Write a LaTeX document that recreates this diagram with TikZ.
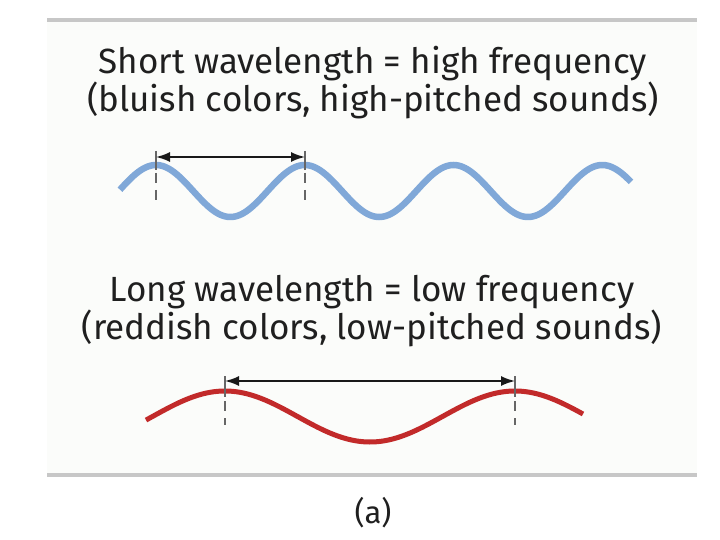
\documentclass[tikz,border=0pt]{standalone}
\usepackage{fontspec}
\setmainfont{Fira Sans}
\usetikzlibrary{arrows.meta}
\definecolor{shortblue}{HTML}{80A8D8}
\definecolor{longred}{HTML}{C22A2A}
\definecolor{panelbg}{HTML}{FBFCFA}
\tikzset{
  headline/.style={font=\fontsize{35}{34}\selectfont, text=black!88, align=center, inner sep=0pt},
  rulebar/.style={draw=black!22, line width=4pt},
  bluewave/.style={draw=shortblue, line width=6.5pt},
  redwave/.style={draw=longred, line width=5pt},
  spanarrow/.style={{Latex[length=14pt,width=10pt]}-{Latex[length=14pt,width=10pt]}, line width=1.8pt, black!90},
  crestmark/.style={draw=black!60, line width=1.2pt},
  crestdash/.style={crestmark, dash pattern=on 10pt off 7pt}
}
\begin{document}
\begin{tikzpicture}[x=1pt, y=-1pt]
  \useasboundingbox (0,0) rectangle (720,540);
  % panel
  \fill[panelbg] (47,20) rectangle (697,475);
  \draw[rulebar] (47,20) -- (697,20);
  \draw[rulebar] (47,475) -- (697,475);
  % short wave
  \node[headline] (shorttitle) at (373,83) {Short wavelength = high frequency\\(bluish colors, high-pitched sounds)};
  \draw[bluewave] plot[domain=120:631, samples=220] (\x, {191 - 26*cos((\x-156)*2.42)});
  \coordinate (shortA) at (156,157);
  \coordinate (shortB) at (305,157);
  \draw[crestmark] (156,151) -- (156,170);
  \draw[crestdash] (156,173) -- (156,201);
  \draw[crestmark] (305,151) -- (305,170);
  \draw[crestdash] (305,173) -- (305,201);
  \draw[spanarrow] (shortA) -- (shortB);
  % long wave
  \node[headline] (longtitle) at (372,311) {Long wavelength = low frequency\\(reddish colors, low-pitched sounds)};
  \draw[redwave] plot[domain=146:583, samples=220] (\x, {416.5 - 25.5*cos((\x-225)*1.2414)});
  \coordinate (longA) at (225,381);
  \coordinate (longB) at (515,381);
  \draw[crestmark] (225,376) -- (225,397);
  \draw[crestdash] (225,401) -- (225,425);
  \draw[crestmark] (515,376) -- (515,397);
  \draw[crestdash] (515,401) -- (515,425);
  \draw[spanarrow] (longA) -- (longB);
  % caption
  \node[headline, font=\fontsize{31}{34}\selectfont] (caption) at (373,513) {(a)};
\end{tikzpicture}
\end{document}
